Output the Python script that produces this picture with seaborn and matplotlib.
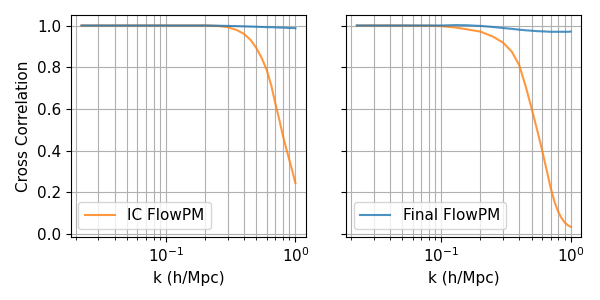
"""Cross correlation and transfer function of FlowPM fields versus k."""

import matplotlib

matplotlib.use("Agg")
import matplotlib.pyplot as plt
import seaborn as sns

# wavenumbers (h/Mpc)
k = [0.0222, 0.03, 0.04, 0.05, 0.065, 0.08, 0.1, 0.13, 0.16, 0.2, 0.25, 0.3, 0.35,
     0.4, 0.45, 0.5, 0.55, 0.6, 0.65, 0.7, 0.75, 0.8, 0.85, 0.9, 0.95, 1.0]

# cross correlation
cc_ic = [1.0, 1.0, 1.0, 1.0, 1.0, 1.0, 1.0, 1.0, 1.0, 1.0, 0.998, 0.992, 0.979,
         0.96, 0.931, 0.891, 0.843, 0.787, 0.714, 0.626, 0.55, 0.473, 0.41, 0.353, 0.30, 0.245]
cc_final = [1.0, 1.0, 1.0, 1.0, 1.0, 1.0, 1.0, 1.0, 1.0, 1.0, 0.999, 0.998, 0.997,
            0.996, 0.995, 0.994, 0.993, 0.992, 0.992, 0.991, 0.99, 0.99, 0.989, 0.988, 0.988, 0.987]

# transfer function
tf_ic = [1.0, 1.0, 1.0, 1.0, 0.999, 0.999, 0.997, 0.99, 0.981, 0.971, 0.947, 0.918, 0.875,
         0.81, 0.706, 0.60, 0.50, 0.405, 0.31, 0.222, 0.155, 0.108, 0.077, 0.056, 0.043, 0.035]
tf_final = [1.0, 1.0, 1.0, 1.0, 1.0, 1.0, 1.0, 1.002, 1.001, 0.998, 0.993, 0.988, 0.984,
            0.98, 0.977, 0.975, 0.973, 0.972, 0.971, 0.970, 0.970, 0.970, 0.970, 0.970, 0.970, 0.971]

plt.rcParams["font.size"] = 11
plt.rcParams["font.family"] = ["DejaVu Sans"]

fig, axes = plt.subplots(1, 2, figsize=(6, 3), dpi=100, sharey=True)

ax = axes[0]
sns.lineplot(x=k, y=cc_ic, ax=ax, color="#ff7f0e", alpha=0.8, label="IC FlowPM")
sns.lineplot(x=k, y=cc_final, ax=ax, color="#1f77b4", alpha=0.8)
ax.set_ylabel("Cross Correlation")

ax = axes[1]
sns.lineplot(x=k, y=tf_ic, ax=ax, color="#ff7f0e", alpha=0.8)
sns.lineplot(x=k, y=tf_final, ax=ax, color="#1f77b4", alpha=0.8, label="Final FlowPM")
ax.set_ylabel("Transfer Function")

for ax in axes:
    ax.set_xscale("log")
    ax.set_xlabel("k (h/Mpc)")
    ax.grid(True, which="both", color="#b0b0b0", linewidth=0.8)
    ax.legend(loc="lower left")

fig.subplots_adjust(left=0.118, right=0.969, bottom=0.21, top=0.95, wspace=0.17)
fig.savefig("out.png", dpi=100)
